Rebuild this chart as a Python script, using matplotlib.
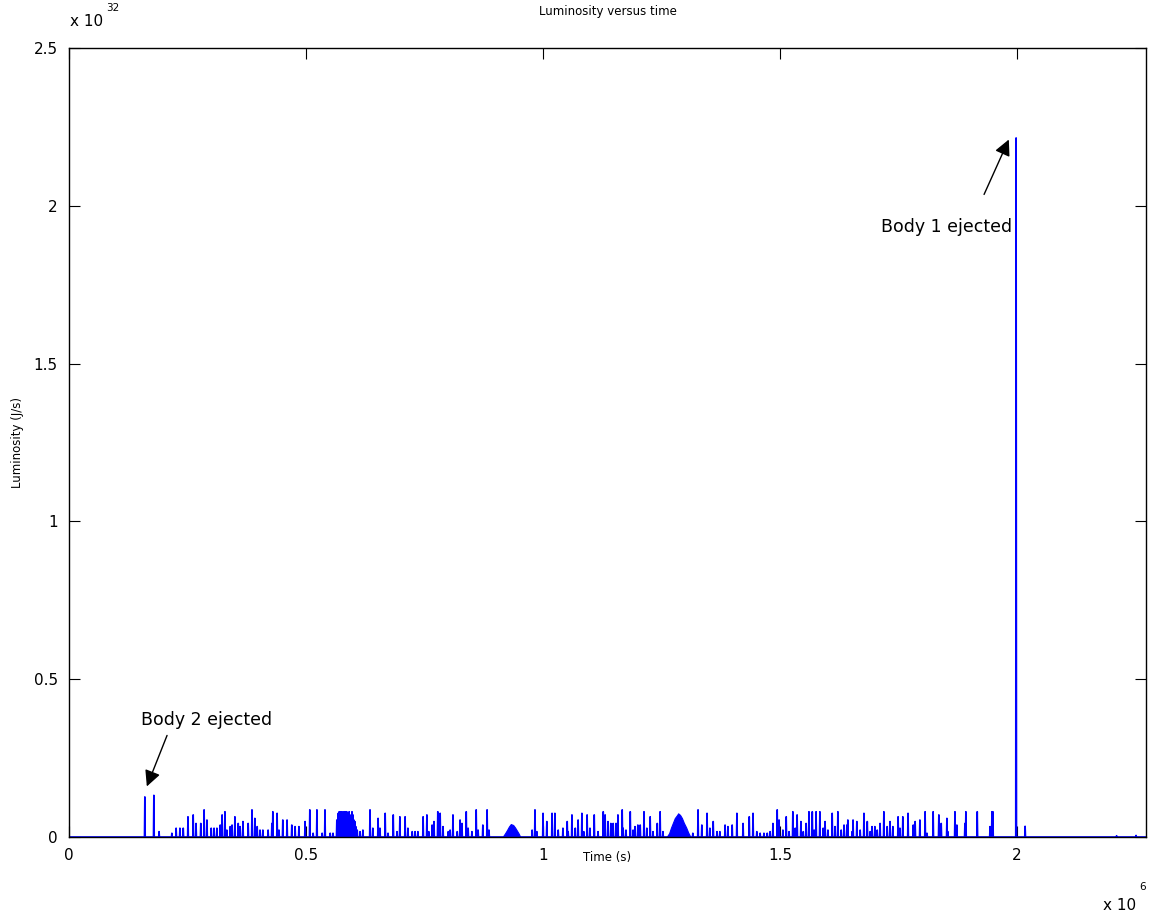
import matplotlib
matplotlib.use('Agg')
import matplotlib.pyplot as plt

plt.rcParams['font.family'] = ['DejaVu Sans']

# spike times (x 1e6 s) and peak luminosity (x 1e32 J/s)
SPIKE_T = [
    0.160, 0.179, 0.190, 0.217, 0.226, 0.234, 0.241, 0.251, 0.262, 0.268,
    0.278, 0.285, 0.291, 0.300, 0.306, 0.312, 0.319, 0.323, 0.329, 0.333,
    0.340, 0.344, 0.350, 0.357, 0.361, 0.367, 0.378, 0.386, 0.392, 0.397,
    0.403, 0.409, 0.420, 0.428, 0.430, 0.439, 0.443, 0.451, 0.460,
    0.470, 0.477, 0.485, 0.498, 0.508, 0.515, 0.523, 0.534, 0.540, 0.551,
    0.557, 0.565, 0.568, 0.570, 0.572, 0.574, 0.576, 0.578, 0.580, 0.582,
    0.584, 0.586, 0.589, 0.591, 0.593, 0.595, 0.597, 0.599, 0.601, 0.603,
    0.605, 0.608, 0.614, 0.620, 0.635, 0.641, 0.652, 0.656, 0.667, 0.673,
    0.684, 0.692, 0.698, 0.709, 0.715, 0.724, 0.730, 0.736, 0.747, 0.755,
    0.759, 0.766, 0.770, 0.778,
    0.783, 0.789, 0.800, 0.804, 0.810, 0.819, 0.825, 0.829, 0.838, 0.842,
    0.850, 0.859, 0.863, 0.873, 0.882, 0.886,
    0.977, 0.983, 0.987, 1.000, 1.008, 1.019, 1.025, 1.032, 1.042, 1.051,
    1.053, 1.061, 1.068, 1.074, 1.082, 1.086, 1.093,
    1.099, 1.108, 1.116, 1.127, 1.131, 1.137, 1.143, 1.148, 1.154, 1.158,
    1.167, 1.169, 1.175, 1.184, 1.190, 1.194, 1.200, 1.205, 1.213, 1.219,
    1.226, 1.232, 1.241, 1.247, 1.253,
    1.316, 1.327, 1.335, 1.346, 1.352, 1.359, 1.367, 1.373, 1.384, 1.390,
    1.399, 1.409,
    1.422, 1.435, 1.443, 1.451, 1.458, 1.466, 1.473, 1.479, 1.485, 1.494,
    1.498, 1.506, 1.513, 1.519, 1.527, 1.532, 1.536, 1.544, 1.549, 1.555,
    1.561, 1.568, 1.572, 1.576, 1.584, 1.591, 1.595, 1.601, 1.610, 1.616,
    1.622, 1.629, 1.635, 1.641, 1.643, 1.652, 1.654, 1.662, 1.669, 1.677,
    1.684, 1.690, 1.694, 1.700, 1.705, 1.711, 1.719, 1.726,
    1.732, 1.738, 1.749, 1.753, 1.759, 1.770, 1.781, 1.785, 1.795, 1.806,
    1.810, 1.823, 1.835, 1.840, 1.852, 1.854, 1.869, 1.873, 1.890, 1.892,
    1.916, 1.943, 1.947, 1.949,
    1.998, 2.017, 2.210, 2.251,
]
SPIKE_L = [
    0.127, 0.132, 0.017, 0.012, 0.028, 0.028, 0.028, 0.064, 0.070, 0.043,
    0.043, 0.086, 0.054, 0.028, 0.028, 0.028, 0.038, 0.070, 0.080, 0.022,
    0.033, 0.038, 0.064, 0.043, 0.033, 0.049, 0.043, 0.086, 0.059, 0.033,
    0.022, 0.022, 0.022, 0.043, 0.080, 0.075, 0.022, 0.054, 0.054,
    0.038, 0.033, 0.033, 0.049, 0.086, 0.012, 0.086, 0.012, 0.086, 0.012,
    0.012, 0.054, 0.075, 0.080, 0.080, 0.080, 0.080, 0.075, 0.080, 0.080,
    0.080, 0.080, 0.075, 0.080, 0.064, 0.070, 0.080, 0.070, 0.054, 0.049,
    0.033, 0.022, 0.017, 0.022, 0.086, 0.028, 0.059, 0.028, 0.075, 0.012,
    0.070, 0.017, 0.064, 0.064, 0.028, 0.017, 0.017, 0.017, 0.064, 0.070,
    0.017, 0.038, 0.049, 0.080,
    0.075, 0.033, 0.017, 0.022, 0.070, 0.017, 0.054, 0.043, 0.080, 0.028,
    0.017, 0.086, 0.022, 0.038, 0.086, 0.022,
    0.022, 0.086, 0.017, 0.075, 0.049, 0.075, 0.075, 0.022, 0.028, 0.049,
    0.017, 0.070, 0.028, 0.054, 0.075, 0.017, 0.070,
    0.028, 0.070, 0.017, 0.080, 0.070, 0.049, 0.043, 0.043, 0.043, 0.070,
    0.086, 0.028, 0.022, 0.080, 0.022, 0.033, 0.038, 0.038, 0.080, 0.028,
    0.064, 0.017, 0.043, 0.080, 0.017,
    0.012, 0.086, 0.038, 0.075, 0.028, 0.049, 0.017, 0.017, 0.038, 0.033,
    0.038, 0.075,
    0.043, 0.064, 0.075, 0.017, 0.012, 0.012, 0.012, 0.017, 0.043, 0.086,
    0.054, 0.022, 0.064, 0.017, 0.080, 0.028, 0.070, 0.049, 0.017, 0.043,
    0.080, 0.080, 0.022, 0.080, 0.080, 0.028, 0.049, 0.022, 0.075, 0.033,
    0.080, 0.022, 0.038, 0.038, 0.054, 0.017, 0.054, 0.049, 0.022, 0.075,
    0.049, 0.017, 0.033, 0.033, 0.022, 0.043, 0.080, 0.033,
    0.049, 0.033, 0.064, 0.028, 0.064, 0.075, 0.038, 0.049, 0.054, 0.080,
    0.012, 0.080, 0.070, 0.043, 0.059, 0.017, 0.080, 0.038, 0.043, 0.080,
    0.080, 0.033, 0.080, 0.080,
    2.215, 0.034, 0.004, 0.005,
]

# two smooth humps (envelopes)
HUMP1_T = [0.916, 0.920, 0.924, 0.928, 0.932, 0.937, 0.941, 0.945, 0.949, 0.951]
HUMP1_L = [0.003, 0.012, 0.022, 0.033, 0.041, 0.038, 0.030, 0.020, 0.010, 0.003]
HUMP2_T = [1.262, 1.266, 1.270, 1.274, 1.278, 1.283, 1.285, 1.289, 1.293,
           1.297, 1.302, 1.306, 1.310]
HUMP2_L = [0.003, 0.012, 0.030, 0.045, 0.060, 0.070, 0.075, 0.070, 0.060,
           0.045, 0.030, 0.015, 0.003]

X_TICKS = [0, 0.5, 1, 1.5, 2]
Y_TICKS = [0, 0.5, 1, 1.5, 2, 2.5]
X_MAX = 2.272
Y_MAX = 2.5
BLUE = '#0000ff'

# build the trace: baseline with a narrow spike at each time
xs, ys = [0.0], [0.0]
dt = 0.0008
for t, l in sorted(zip(SPIKE_T, SPIKE_L)):
    xs += [t - dt, t, t + dt]
    ys += [0.0, l, 0.0]
xs.append(X_MAX)
ys.append(0.0)

fig = plt.figure(figsize=(11.57, 9.19), dpi=100)
ax = fig.add_axes([69/1157, 82/919, 1077/1157, 789/919])

ax.plot(xs, ys, color=BLUE, lw=1.2)
ax.fill_between(HUMP1_T, 0, HUMP1_L, color=BLUE, lw=0.8)
ax.fill_between(HUMP2_T, 0, HUMP2_L, color=BLUE, lw=0.8)

ax.set_xlim(0, X_MAX)
ax.set_ylim(0, Y_MAX)
ax.set_xticks(X_TICKS)
ax.set_xticklabels(['0', '0.5', '1', '1.5', '2'])
ax.set_yticks(Y_TICKS)
ax.set_yticklabels(['0', '0.5', '1', '1.5', '2', '2.5'])
ax.tick_params(direction='in', top=True, right=True, length=8, width=0.8,
               labelsize=11, pad=8)
for s in ax.spines.values():
    s.set_linewidth(1.0)

fig.text(608/1157, 1 - 12/919, 'Luminosity versus time', fontsize=8.5,
         ha='center', va='center')
ax.set_xlabel('Time (s)', fontsize=8.5, va='center')
ax.xaxis.set_label_coords(0.5, -(858 - 837) / 789)
ax.set_ylabel('Luminosity (J/s)', fontsize=8.5, va='center')
ax.yaxis.set_label_coords((18 - 69) / 1077, 0.5)

# MATLAB-style exponent labels
fig.text(70/1157, 1 - 21/919, 'x 10', fontsize=11, ha='left', va='center')
fig.text(106/1157, 1 - 8/919, '32', fontsize=7.5, ha='left', va='center')
fig.text(1103/1157, 1 - 905/919, 'x 10', fontsize=11, ha='left', va='center')
fig.text(1139/1157, 1 - 887/919, '6', fontsize=7.5, ha='left', va='center')

# annotations
ax.text(1.989, 1.933, 'Body 1 ejected', fontsize=12.5, ha='right', va='center')
ax.annotate('', xy=(1.985, 2.218), xytext=(1.928, 2.028),
            arrowprops=dict(arrowstyle='-|>', color='k', lw=1, mutation_scale=24))
ax.text(0.152, 0.371, 'Body 2 ejected', fontsize=12.5, ha='left', va='center')
ax.annotate('', xy=(0.162, 0.152), xytext=(0.209, 0.330),
            arrowprops=dict(arrowstyle='-|>', color='k', lw=1, mutation_scale=24))

fig.savefig('out.png', dpi=100, facecolor='white')
